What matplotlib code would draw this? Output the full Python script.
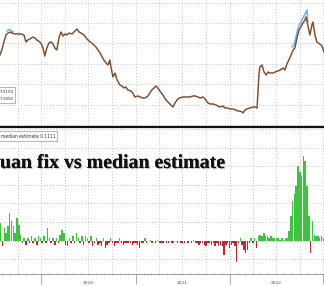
import matplotlib
matplotlib.use('Agg')
import matplotlib.pyplot as plt
import matplotlib.dates as mdates
import matplotlib.patheffects as pe
from matplotlib.patches import Rectangle
from matplotlib.lines import Line2D
import numpy as np
import pandas as pd

# ---------------- data ----------------
fix_dates = ['2019-07-24','2019-07-31','2019-08-08','2019-08-16','2019-08-24','2019-09-01','2019-09-08','2019-09-20','2019-10-02','2019-10-13','2019-10-25','2019-11-02','2019-11-09','2019-11-17','2019-11-29','2019-12-07','2019-12-14','2019-12-26',
             '2020-01-03','2020-01-11','2020-01-14','2020-01-22','2020-01-30','2020-02-07','2020-02-15','2020-02-22','2020-03-01','2020-03-05','2020-03-09','2020-03-17','2020-03-25','2020-04-02','2020-04-09','2020-04-17','2020-04-29','2020-05-10','2020-05-18','2020-05-26','2020-06-03','2020-06-14','2020-06-26','2020-07-08','2020-07-19','2020-07-31','2020-08-08','2020-08-16','2020-08-24','2020-08-31','2020-09-08','2020-09-16','2020-09-23','2020-09-27','2020-10-05','2020-10-13','2020-10-21','2020-11-01','2020-11-09','2020-11-17','2020-11-24','2020-12-02','2020-12-14','2020-12-21','2020-12-29',
             '2021-01-10','2021-01-18','2021-01-29','2021-02-06','2021-02-18','2021-02-25','2021-03-05','2021-03-13','2021-03-21','2021-03-25','2021-04-05','2021-04-17','2021-04-29','2021-05-07','2021-05-15','2021-05-22','2021-05-26','2021-06-03','2021-06-11','2021-06-19','2021-07-04','2021-07-20','2021-07-31','2021-08-12','2021-08-20','2021-09-01','2021-09-08','2021-09-20','2021-09-28','2021-10-09','2021-10-17','2021-10-29','2021-11-09','2021-11-24','2021-12-06','2021-12-14','2021-12-26',
             '2022-01-02','2022-01-14','2022-01-26','2022-02-02','2022-02-10','2022-02-18','2022-02-22','2022-03-02','2022-03-09','2022-03-21','2022-04-02','2022-04-10','2022-04-18','2022-04-22','2022-04-25','2022-04-29','2022-05-07','2022-05-15','2022-05-23','2022-05-31','2022-06-07','2022-06-19','2022-06-27','2022-07-08','2022-07-16','2022-07-28','2022-08-04','2022-08-12','2022-08-16','2022-08-28','2022-09-05','2022-09-12','2022-09-20','2022-09-28','2022-10-05','2022-10-13','2022-10-21','2022-10-25','2022-11-01','2022-11-09','2022-11-17','2022-11-21','2022-11-29','2022-12-06','2022-12-18','2022-12-26','2023-01-03']
fix_values = [6.888, 6.937, 7.015, 7.083, 7.102, 7.112, 7.102, 7.093, 7.093, 7.093, 7.083, 7.015, 7.034, 7.044, 7.063, 7.054, 7.034, 7.015,
              6.985, 6.917, 6.878, 6.956, 7.005, 7.015, 6.995, 6.956, 6.937, 6.995, 7.054, 7.112, 7.073, 7.093, 7.083, 7.102, 7.093, 7.122, 7.141, 7.112, 7.102, 7.083, 7.044, 7.015, 6.995, 6.966, 6.937, 6.907, 6.868, 6.839, 6.810, 6.790, 6.839, 6.771, 6.673, 6.712, 6.644, 6.595, 6.585, 6.566, 6.576, 6.546, 6.537, 6.517, 6.478,
              6.488, 6.478, 6.468, 6.468, 6.488, 6.517, 6.546, 6.566, 6.585, 6.576, 6.537, 6.498, 6.449, 6.429, 6.410, 6.390, 6.380, 6.420, 6.449, 6.468, 6.478, 6.478, 6.478, 6.488, 6.488, 6.478, 6.468, 6.478, 6.459, 6.420, 6.410, 6.410, 6.400, 6.380, 6.390, 6.371, 6.371,
              6.361, 6.361, 6.351, 6.341, 6.341, 6.332, 6.322, 6.351, 6.361, 6.371, 6.380, 6.380, 6.371, 6.546, 6.693, 6.771, 6.790, 6.722, 6.693, 6.722, 6.712, 6.712, 6.722, 6.732, 6.741, 6.761, 6.741, 6.800, 6.820, 6.888, 6.937, 6.956, 7.054, 7.132, 7.161, 7.200, 7.229, 7.259, 7.180, 7.083, 7.180, 7.210, 7.083, 7.015, 6.995, 6.976, 6.917]

est_dates = ['2019-08-20','2019-08-28','2019-09-05','2019-09-12','2019-09-13',
             '2022-09-01','2022-09-08','2022-09-16','2022-09-24','2022-10-01','2022-10-09','2022-10-17','2022-10-25','2022-10-29','2022-11-01']
est_values = [7.122, 7.137, 7.127, 7.112, np.nan,
              6.966, 6.985, 7.063, 7.151, 7.190, 7.229, 7.268, 7.307, 7.327, 7.210]

# weekly deviation of the fix from the median estimate (pips)
dev_start = '2019-07-27'
dev_values = [97,-32,65,38,81,146,108,76,43,119, 86,32,-16,11,-22,16,-11,22,-16,16,
              -22,27,16,-16,22,-11,65,16,-16,11, -22,16,-16,32,59,43,-22,-27,16,-16,
              22,-11,38,16,-16,22,-22,27,16,-16, 22,-27,-16,11,-22,-16,-32,11,-38,-22,
              -16,11,-16,-27,-11,-16,11,-16,-22,-11, -16,-16,-11,-22,-16,-11,-22,-38,-16,-11,
              11,-11,-5,5,-11,-5,-11,5,-11,-16, -11,-5,-16,-11,-5,-11,-16,-5,-11,-5,
              -11,-16,-11,-5,-11,-5,-11,5,-11,-16, -22,-16,-11,-22,-27,-16,-11,-22,-16,-27,
              -16,-32,-22,-27,-81,-22,-16,-43,-22,-11, -27,-114,-16,11,-22,-54,-65,-49,-16,16,
              -11,11,-38,22,32,27,38,22,27,16, 22,11,16,11,11,5,11,5,11,11,
              54,135,211,254,297,405,368,346,459,427, 297,135,-70,103,32,27,22,16,22,16]

year_labels = ['2020', '2021', '2022']
legend_top = ['7.3103', '7.1992']
legend_bottom = 'median estimate 0.1111'
title_text = 'uan fix vs median estimate'

# ---------------- figure ----------------
W, H = 324, 286
fig = plt.figure(figsize=(W / 100, H / 100), dpi=100)
fig.patch.set_facecolor('white')

def fy(px):
    return 1 - px / H

ax1 = fig.add_axes([0, fy(126), 1, 126 / H])
ax2 = fig.add_axes([0, fy(274), 1, (274 - 128) / H])

xmin, xmax = pd.Timestamp('2019-07-24'), pd.Timestamp('2023-01-03')
grid_kw = dict(color='#c4c4c4', lw=0.7, linestyle=(0, (1, 2)), zorder=0)
quarters = pd.date_range('2019-10-01', '2023-01-01', freq='QS')

for ax in (ax1, ax2):
    ax.set_xlim(xmin, xmax)
    for s in ax.spines.values():
        s.set_visible(False)
    ax.set_yticks([])
    for q in quarters:
        ax.axvline(q, **grid_kw)

# top panel
ax1.set_ylim(6.195, 7.4244)
for v in np.arange(6.2, 7.41, 0.2):
    ax1.axhline(v, **grid_kw)
ax1.plot(pd.to_datetime(est_dates), est_values, color='#6fb1e6', lw=1.1, zorder=2)
ax1.plot(pd.to_datetime(fix_dates), fix_values, color='#7d4b2a', lw=1.05, zorder=3)
ax1.set_xticks([])

# bottom panel
ax2.set_ylim(-181, 608)
for v in range(-100, 601, 100):
    ax2.axhline(v, **grid_kw)
dev_dates = pd.date_range(dev_start, periods=len(dev_values), freq='7D')
colors = ['#3dc43f' if v >= 0 else '#c62430' for v in dev_values]
ax2.bar(dev_dates, dev_values, width=5.6, color=colors, linewidth=0, zorder=2)

ax2.spines['bottom'].set_visible(True)
ax2.spines['bottom'].set_color('#8c8c8c')
ax2.spines['bottom'].set_linewidth(0.6)
years = pd.to_datetime(['2020-01-01', '2021-01-01', '2022-01-01', '2023-01-01'])
ax2.set_xticks(years)
ax2.set_xticklabels([''] * len(years))
ax2.xaxis.set_minor_locator(mdates.MonthLocator())
ax2.tick_params(axis='x', which='major', length=7, width=0.5, color='#8c8c8c', direction='out')
ax2.tick_params(axis='x', which='minor', length=1.6, width=0.4, color='#8c8c8c', direction='inout')
for lab in year_labels:
    ax2.text(pd.Timestamp(f'{lab}-07-01'), -0.062, lab, transform=ax2.get_xaxis_transform(),
             ha='center', va='center', fontsize=3.2, color='#555555')

# separator
fig.add_artist(Line2D([0, 1], [fy(127), fy(127)], transform=fig.transFigure, color='#111111', lw=1.6))

# legend boxes
fig.add_artist(Rectangle((-2 / W, fy(103)), 17 / W, 16 / H, transform=fig.transFigure,
                         facecolor='white', edgecolor='#999999', lw=0.5, zorder=5))
fig.text(14 / W, fy(92), legend_top[0], ha='right', va='center', fontsize=3, color='#333333', zorder=6)
fig.text(14 / W, fy(99), legend_top[1], ha='right', va='center', fontsize=3, color='#333333', zorder=6)

fig.add_artist(Rectangle((-2 / W, fy(141)), 59 / W, 10 / H, transform=fig.transFigure,
                         facecolor='white', edgecolor='#999999', lw=0.5, zorder=5))
fig.text(1 / W, fy(136), legend_bottom, ha='left', va='center', fontsize=3.25, color='#333333', zorder=6)

# title
fig.text(0, fy(168), title_text, ha='left', va='baseline', fontsize=14.3,
         fontfamily='Liberation Serif', fontweight='bold', color='#111111', zorder=7,
         path_effects=[pe.withSimplePatchShadow(offset=(0.8, -0.8), shadow_rgbFace='#888888', alpha=0.45), pe.Normal()])

fig.savefig('out.png', dpi=100, facecolor='white')
